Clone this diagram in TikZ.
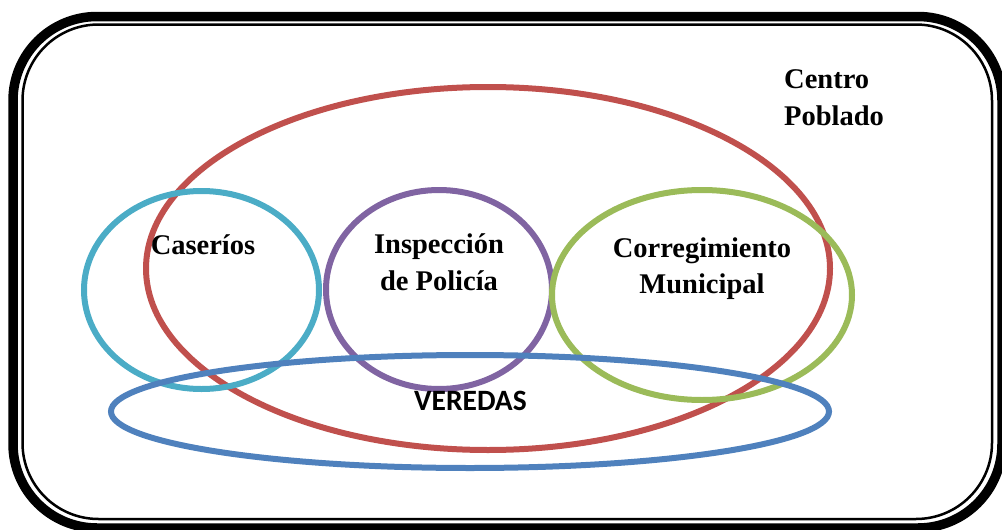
\documentclass[tikz,border=0pt]{standalone}
\usepackage{fontspec}
\setmainfont{Liberation Serif}
\newfontfamily\calfont{Carlito}
\usetikzlibrary{shapes.geometric}
\definecolor{cred}{HTML}{C0504D}
\definecolor{ccyan}{HTML}{4BACC6}
\definecolor{cpurple}{HTML}{8064A2}
\definecolor{cgreen}{HTML}{9BBB59}
\definecolor{cblue}{HTML}{4F81BD}
\tikzset{
  ring/.style={ellipse, draw=#1, line width=6pt, inner sep=0pt, outer sep=0pt},
  lbl/.style={font=\fontsize{28.5}{34}\selectfont\bfseries, inner sep=0pt, anchor=base},
  lblw/.style={lbl, anchor=base west},
  vlbl/.style={font=\fontsize{29.5}{35}\selectfont\calfont\bfseries, inner sep=0pt, anchor=base},
}
\begin{document}
\begin{tikzpicture}[x=1pt,y=-1pt]
\useasboundingbox (0,0) rectangle (1002,530);
% frame
\draw[line width=9.5pt, rounded corners=84pt] (13,16.5) rectangle (1002,528);
\draw[line width=2.5pt, rounded corners=76pt] (22.5,24.5) rectangle (992,519);
% sets
\node[ring=cred, minimum width=684pt, minimum height=363pt] (poblado) at (488,268.5) {};
\node[ring=ccyan, minimum width=235pt, minimum height=198pt] (caserios) at (201.5,290) {};
\node[ring=cpurple, minimum width=226pt, minimum height=199pt] (inspeccion) at (439,289.5) {};
\node[ring=cgreen, minimum width=300pt, minimum height=210pt] (corregimiento) at (702,295) {};
\node[ring=cblue, minimum width=718pt, minimum height=113pt] (veredas) at (470,411.5) {};
% labels
\node[lblw] (tcentro) at (784,88) {Centro};
\node[lblw] (tpoblado) at (784,125) {Poblado};
\node[lbl] (tcaserios) at (203,254) {Caseríos};
\node[lbl] (tinsp1) at (439,253) {Inspección};
\node[lbl] (tinsp2) at (439,290) {de Policía};
\node[lbl] (tcorr1) at (702,257) {Corregimiento};
\node[lbl] (tcorr2) at (702,293) {Municipal};
\node[vlbl] (tveredas) at (470.5,410) {VEREDAS};
\end{tikzpicture}
\end{document}
